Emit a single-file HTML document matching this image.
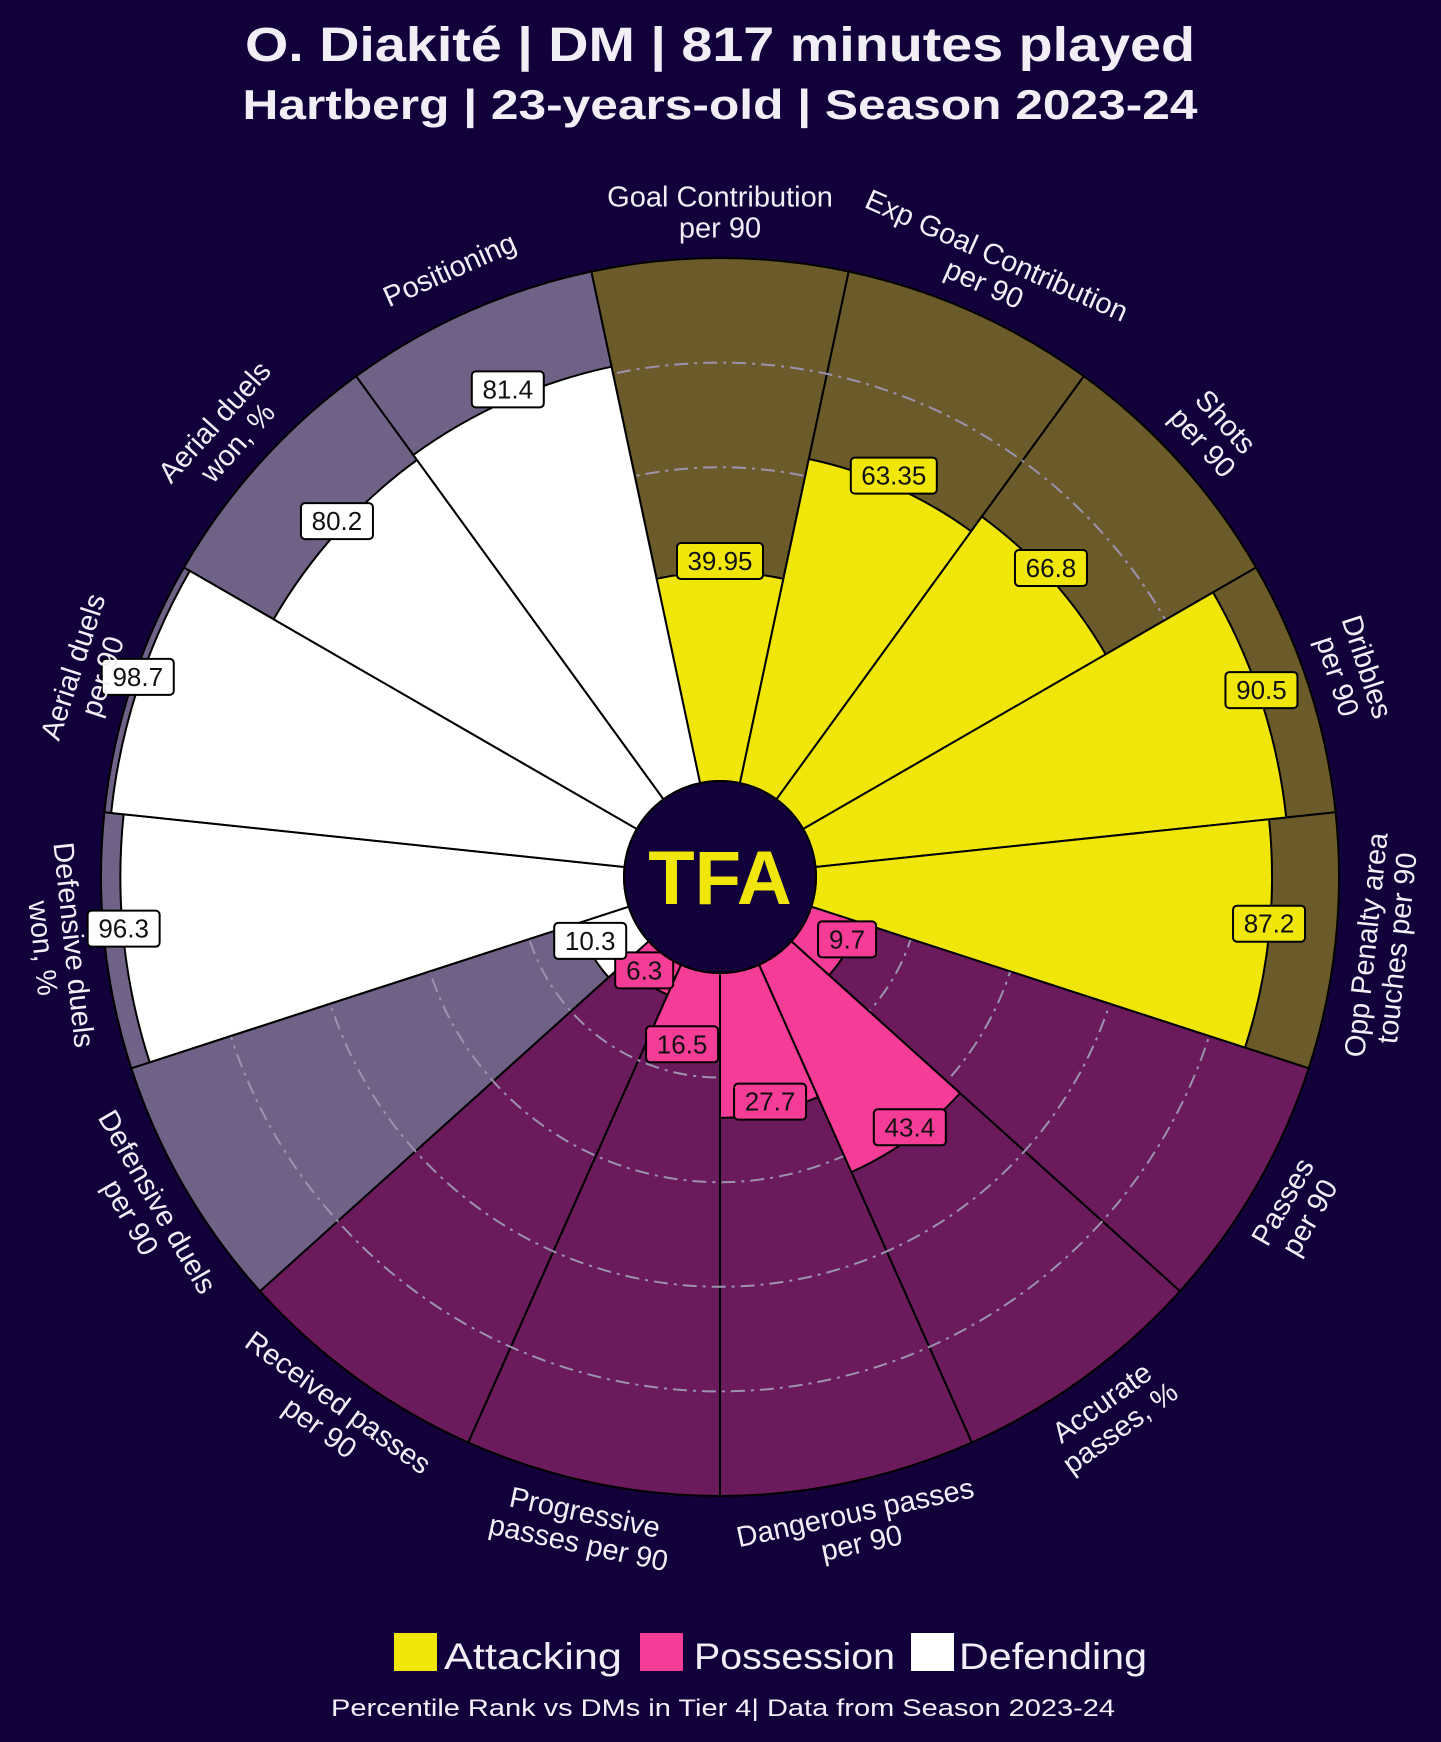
<!DOCTYPE html>
<html><head><meta charset="utf-8">
<style>
html,body{margin:0;padding:0;background:#12003b;}
svg{display:block;font-family:"Liberation Sans",sans-serif;}
</style></head>
<body>
<svg id="chart" width="1441" height="1742" viewBox="0 0 1441 1742" xmlns="http://www.w3.org/2000/svg">
<rect width="1441" height="1742" fill="#12003b"/>
<text x="720" y="61" text-anchor="middle" font-size="48" font-weight="bold" fill="#f2eef6" textLength="950" lengthAdjust="spacingAndGlyphs">O. Diakité | DM | 817 minutes played</text>
<text x="720" y="119" text-anchor="middle" font-size="42" font-weight="bold" fill="#f2eef6" textLength="955" lengthAdjust="spacingAndGlyphs">Hartberg | 23-years-old | Season 2023-24</text>
<g id="rings-bg"></g>
<g id="bars"></g>
<g id="labels"></g>
<g id="logo">
<circle cx="720" cy="877" r="96" fill="#12003b" stroke="#000" stroke-width="2"/>
<text x="720" y="904" text-anchor="middle" font-size="76" font-weight="bold" fill="#f0e60a">TFA</text>
</g>
<g>
<rect x="394" y="1633" width="43" height="38" fill="#f0e60a"/>
<text x="444" y="1669" font-size="37" fill="#f2eef6" textLength="178" lengthAdjust="spacingAndGlyphs">Attacking</text>
<rect x="640" y="1633" width="43" height="38" fill="#f53c96"/>
<text x="694" y="1669" font-size="37" fill="#f2eef6" textLength="201" lengthAdjust="spacingAndGlyphs">Possession</text>
<rect x="911" y="1633" width="43" height="38" fill="#ffffff"/>
<text x="959" y="1669" font-size="37" fill="#f2eef6" textLength="188" lengthAdjust="spacingAndGlyphs">Defending</text>
</g>
<text x="723" y="1716" text-anchor="middle" font-size="24" fill="#f2eef6" textLength="784" lengthAdjust="spacingAndGlyphs">Percentile Rank vs DMs in Tier 4| Data from Season 2023-24</text>
</svg>
<script>
const categories = [
 ["Goal Contribution","per 90"],["Exp Goal Contribution","per 90"],["Shots","per 90"],["Dribbles","per 90"],
 ["Opp Penalty area","touches per 90"],["Passes","per 90"],["Accurate","passes, %"],["Dangerous passes","per 90"],
 ["Progressive","passes per 90"],["Received passes","per 90"],["Defensive duels","per 90"],["Defensive duels","won, %"],
 ["Aerial duels","per 90"],["Aerial duels","won, %"],["Positioning"]
];
const values = [39.95,63.35,66.8,90.5,87.2,9.7,43.4,27.7,16.5,6.3,10.3,96.3,98.7,80.2,81.4];
const valueLabels = ["39.95","63.35","66.8","90.5","87.2","9.7","43.4","27.7","16.5","6.3","10.3","96.3","98.7","80.2","81.4"];
const groups = ["att","att","att","att","att","pos","pos","pos","pos","pos","def","def","def","def","def"];
const ringTicks = [20,40,60,80];

const NS="http://www.w3.org/2000/svg";
const cx=720, cy=877, r0=96, R=619;
const colors={att:["#f0e60a","#6b5a2a"],pos:["#f53c96","#6b1a5c"],def:["#ffffff","#6f6286"]};
const n=categories.length, step=360/n;
function rScale(v){return r0+(R-r0)*v/100;}
function pt(r,deg){const a=deg*Math.PI/180;return [cx+r*Math.sin(a), cy-r*Math.cos(a)];}
function sector(ri,ro,a0,a1){
 const p1=pt(ri,a0),p2=pt(ro,a0),p3=pt(ro,a1),p4=pt(ri,a1);
 return `M${p1[0]},${p1[1]} L${p2[0]},${p2[1]} A${ro},${ro} 0 0 1 ${p3[0]},${p3[1]} L${p4[0]},${p4[1]} A${ri},${ri} 0 0 0 ${p1[0]},${p1[1]} Z`;
}
const bg=document.getElementById('rings-bg'), bars=document.getElementById('bars'), labels=document.getElementById('labels');
for(let i=0;i<n;i++){
 const a0=i*step-step/2, a1=a0+step;
 const p=document.createElementNS(NS,'path');
 p.setAttribute('d',sector(r0,R,a0,a1));
 p.setAttribute('fill',colors[groups[i]][1]);
 p.setAttribute('stroke','#000');p.setAttribute('stroke-width','2');
 
 
 bg.appendChild(p);
}
ringTicks.forEach(t=>{
 const c=document.createElementNS(NS,'circle');
 c.setAttribute('cx',cx);c.setAttribute('cy',cy);c.setAttribute('r',rScale(t));
 c.setAttribute('fill','none');c.setAttribute('stroke','#9b93ae');c.setAttribute('stroke-width','2');
 c.setAttribute('stroke-dasharray','14 6 3 6');
 
 
 bg.appendChild(c);
});
for(let i=0;i<n;i++){
 const a0=i*step-step/2, a1=a0+step;
 const p=document.createElementNS(NS,'path');
 p.setAttribute('d',sector(r0,rScale(values[i]),a0,a1));
 p.setAttribute('fill',colors[groups[i]][0]);
 p.setAttribute('stroke','#000');p.setAttribute('stroke-width','2');
 
 
 bars.appendChild(p);
}
for(let i=0;i<n;i++){
 const ang=i*step;
 let [x,y]=pt(rScale(values[i]),ang);
 y-=11;
 const g=document.createElementNS(NS,'g');
 
 
 const w=valueLabels[i].length*14+16;
 const rc=document.createElementNS(NS,'rect');
 rc.setAttribute('x',x-w/2);rc.setAttribute('y',y-18);rc.setAttribute('width',w);rc.setAttribute('height',36);
 rc.setAttribute('rx',4);rc.setAttribute('fill',colors[groups[i]][0]);rc.setAttribute('stroke','#000');rc.setAttribute('stroke-width','2');
 g.appendChild(rc);
 const t=document.createElementNS(NS,'text');
 t.setAttribute('x',x);t.setAttribute('y',y+9);t.setAttribute('text-anchor','middle');t.setAttribute('font-size','26');t.setAttribute('fill','#111');
 t.textContent=valueLabels[i];
 g.appendChild(t);
 labels.appendChild(g);
 const [lx,ly]=pt(665,ang);
 let rot = (ang>90 && ang<=270) ? ang-180 : (ang>270 ? ang-360 : ang);
 const ct=document.createElementNS(NS,'text');
 ct.setAttribute('text-anchor','middle');ct.setAttribute('font-size','29');ct.setAttribute('fill','#f2eef6');
 ct.setAttribute('transform',`translate(${lx},${ly}) rotate(${rot})`);
 
 
 const lines=categories[i];
 const lh=31, start=-(lines.length-1)*lh/2+10;
 lines.forEach((s,k)=>{
  const ts=document.createElementNS(NS,'tspan');
  ts.setAttribute('x',0);ts.setAttribute('y',start+k*lh);ts.textContent=s;ct.appendChild(ts);
 });
 labels.appendChild(ct);
}
</script>
</body></html>
